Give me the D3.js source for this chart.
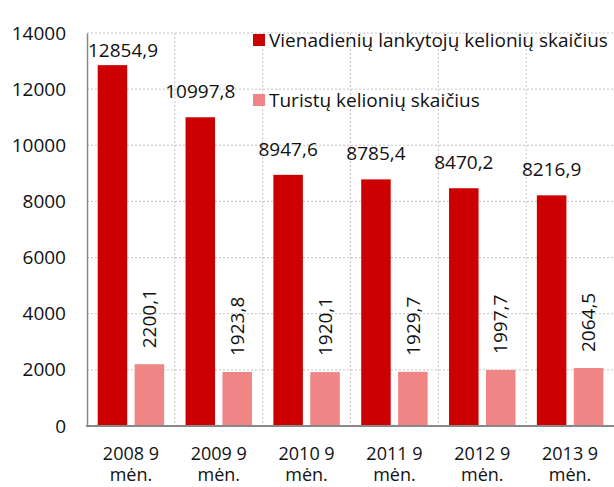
<!DOCTYPE html>
<html>
<head>
<meta charset="utf-8">
<script src="https://cdn.jsdelivr.net/npm/d3@7"></script>
<style>
  body { margin: 0; background: #fff; }
  svg text { font-family: "Open Sans", "Noto Sans", sans-serif; fill: #111; }
</style>
</head>
<body>
<div id="chart"></div>
<script>
const categories = ["2008 9|mėn.", "2009 9|mėn.", "2010 9|mėn.", "2011 9|mėn.", "2012 9|mėn.", "2013 9|mėn."];
const seriesNames = ["Vienadienių lankytojų kelionių skaičius", "Turistų kelionių skaičius"];
const dayVisits = [12854.9, 10997.8, 8947.6, 8785.4, 8470.2, 8216.9];
const touristTrips = [2200.1, 1923.8, 1920.1, 1929.7, 1997.7, 2064.5];
const yTicks = [0, 2000, 4000, 6000, 8000, 10000, 12000, 14000];
const colors = ["#cc0000", "#ef8585"];

const width = 614, height = 487;
const margin = { top: 33, right: 0, bottom: 61, left: 87 };
const fontSize = "19px";

const svg = d3.select("#chart").append("svg")
    .attr("width", width)
    .attr("height", height);

const x = d3.scaleBand()
    .domain(categories)
    .range([margin.left, width - margin.right]);

const xs = d3.scaleBand()
    .domain([0, 1])
    .range([0, x.bandwidth()])
    .paddingInner(0.2)
    .paddingOuter(0.29);

const y = d3.scaleLinear()
    .domain([0, 14000])
    .range([height - margin.bottom, margin.top]);

const fmt = v => d3.format(".1f")(v).replace(".", ",");

// grid
svg.append("g").selectAll("line.h")
    .data(yTicks.slice(1))
    .enter().append("line")
    .attr("x1", margin.left).attr("x2", width)
    .attr("y1", d => y(d)).attr("y2", d => y(d))
    .attr("stroke", "#c4c4c4").attr("stroke-dasharray", "2,2");

svg.append("g").selectAll("line.v")
    .data(categories.slice(1))
    .enter().append("line")
    .attr("x1", d => x(d)).attr("x2", d => x(d))
    .attr("y1", y(14000)).attr("y2", y(0))
    .attr("stroke", "#c4c4c4").attr("stroke-dasharray", "2,2");

// y axis
const yAxis = svg.append("g")
    .attr("transform", "translate(" + margin.left + ",0)")
    .call(d3.axisLeft(y).tickValues(yTicks).tickSize(0).tickPadding(21).tickFormat(d3.format("d")));
yAxis.select(".domain").attr("stroke", "#888").attr("stroke-width", 1.5);
yAxis.selectAll("text").style("font-size", fontSize).attr("fill", "#111");

// bars
const groups = svg.append("g").selectAll("g")
    .data(categories)
    .enter().append("g")
    .attr("transform", d => "translate(" + x(d) + ",0)");

groups.append("rect")
    .attr("x", xs(0))
    .attr("width", xs.bandwidth())
    .attr("y", (d, i) => y(dayVisits[i]))
    .attr("height", (d, i) => y(0) - y(dayVisits[i]))
    .attr("fill", colors[0]);

groups.append("rect")
    .attr("x", xs(1))
    .attr("width", xs.bandwidth())
    .attr("y", (d, i) => y(touristTrips[i]))
    .attr("height", (d, i) => y(0) - y(touristTrips[i]))
    .attr("fill", colors[1]);

// value labels red
groups.append("text")
    .text((d, i) => fmt(dayVisits[i]))
    .attr("x", xs(0) + xs.bandwidth() / 2)
    .attr("y", (d, i) => Math.max(y(dayVisits[i]) - 19, margin.top + 24))
    .attr("text-anchor", "middle")
    .style("font-size", fontSize)
    .each(function (d) {
        const w = this.getComputedTextLength();
        const cx = x(d) + xs(0) + xs.bandwidth() / 2;
        if (cx - w / 2 < margin.left + 1) {
            d3.select(this).attr("x", xs(0) + xs.bandwidth() / 2 + (margin.left + 1 - (cx - w / 2)));
        }
    });

// value labels pink (rotated)
groups.append("text")
    .text((d, i) => fmt(touristTrips[i]))
    .attr("transform", (d, i) => "translate(" + (xs(1) + xs.bandwidth() / 2) + "," + (y(touristTrips[i]) - 16) + ") rotate(-90)")
    .attr("dy", "0.35em")
    .style("font-size", fontSize);

// x axis
svg.append("line")
    .attr("x1", margin.left - 1).attr("x2", width)
    .attr("y1", y(0)).attr("y2", y(0))
    .attr("stroke", "#888").attr("stroke-width", 2);

groups.selectAll("text.xl")
    .data(d => d.split("|"))
    .enter().append("text")
    .attr("class", "xl")
    .attr("x", x.bandwidth() / 2)
    .attr("y", (d, i) => y(0) + 34 + i * 21)
    .attr("text-anchor", "middle")
    .style("font-size", "18px")
    .text(d => d);

// legend
const legend = svg.append("g").selectAll("g")
    .data(seriesNames)
    .enter().append("g")
    .attr("transform", (d, i) => "translate(253," + (34 + i * 60) + ")");

legend.append("rect")
    .attr("width", 12).attr("height", 12)
    .attr("fill", (d, i) => colors[i]);

legend.append("text")
    .attr("x", 16).attr("y", 13)
    .style("font-size", fontSize)
    .text(d => d);
</script>
</body>
</html>
